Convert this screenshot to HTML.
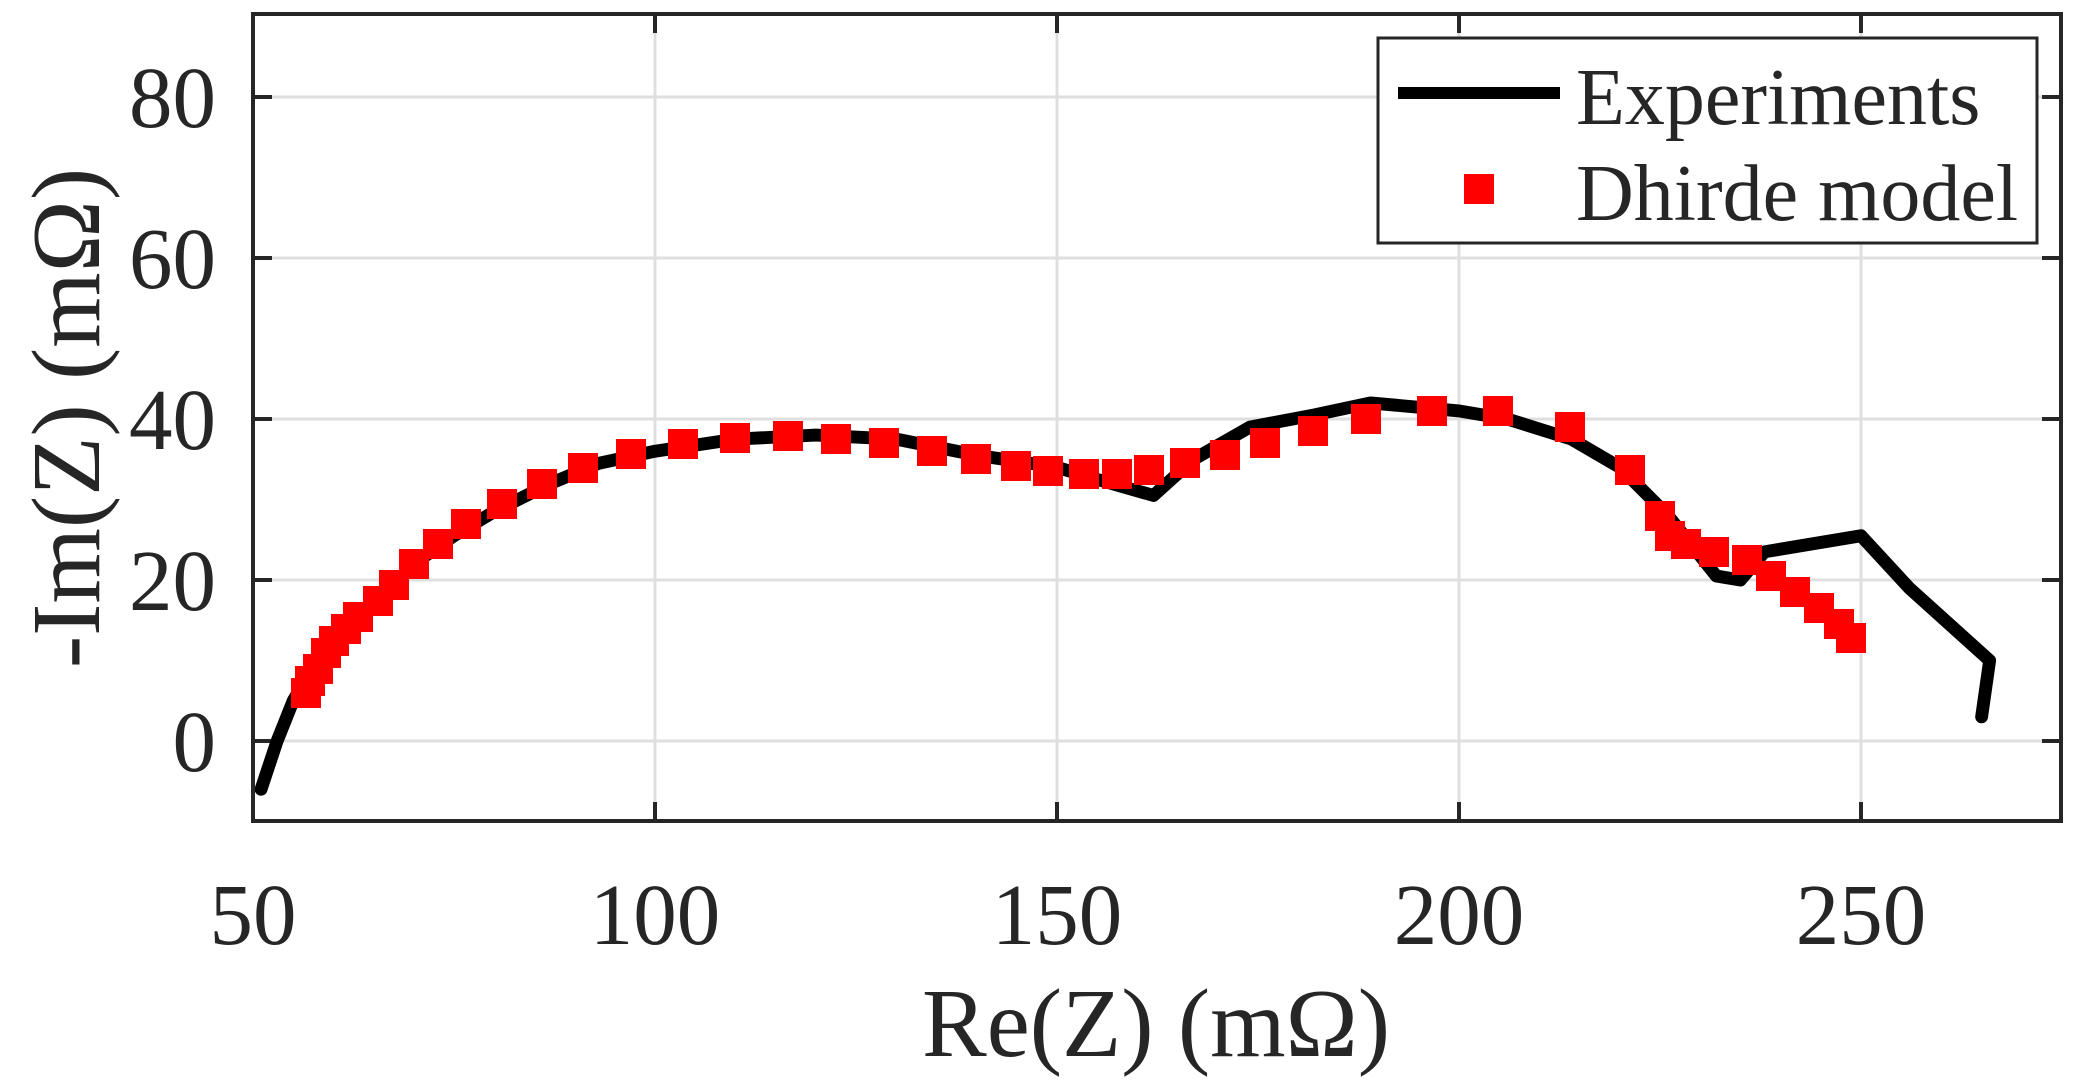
<!DOCTYPE html>
<html><head><meta charset="utf-8"><style>
body{margin:0;background:#fff;}
svg text{font-family:"Liberation Serif",serif;fill:#262626;}
</style></head><body>
<svg width="2082" height="1087" viewBox="0 0 2082 1087" xmlns="http://www.w3.org/2000/svg">
<rect width="2082" height="1087" fill="#fff"/>
<g stroke="#dfdfdf" stroke-width="3">
<line x1="655" y1="14" x2="655" y2="821"/>
<line x1="1057" y1="14" x2="1057" y2="821"/>
<line x1="1459" y1="14" x2="1459" y2="821"/>
<line x1="1861" y1="14" x2="1861" y2="821"/>
<line x1="253" y1="741" x2="2061" y2="741"/>
<line x1="253" y1="580" x2="2061" y2="580"/>
<line x1="253" y1="419" x2="2061" y2="419"/>
<line x1="253" y1="258" x2="2061" y2="258"/>
<line x1="253" y1="97" x2="2061" y2="97"/>
</g>
<g stroke="#262626" stroke-width="4">
<line x1="655" y1="821" x2="655" y2="802"/><line x1="1057" y1="821" x2="1057" y2="802"/><line x1="1459" y1="821" x2="1459" y2="802"/><line x1="1861" y1="821" x2="1861" y2="802"/>
<line x1="655" y1="14" x2="655" y2="33"/><line x1="1057" y1="14" x2="1057" y2="33"/><line x1="1459" y1="14" x2="1459" y2="33"/><line x1="1861" y1="14" x2="1861" y2="33"/>
<line x1="253" y1="741" x2="272" y2="741"/><line x1="253" y1="580" x2="272" y2="580"/><line x1="253" y1="419" x2="272" y2="419"/><line x1="253" y1="258" x2="272" y2="258"/><line x1="253" y1="97" x2="272" y2="97"/>
<line x1="2061" y1="741" x2="2042" y2="741"/><line x1="2061" y1="580" x2="2042" y2="580"/><line x1="2061" y1="419" x2="2042" y2="419"/><line x1="2061" y1="258" x2="2042" y2="258"/><line x1="2061" y1="97" x2="2042" y2="97"/>
</g>
<g transform="translate(253,741) scale(8.04,-8.05) translate(-50,0)">
<polyline fill="none" stroke="#000" stroke-width="1.6" stroke-linejoin="round" stroke-linecap="round" points="51,-6 53,0 55,5 58,10 62,14 66,18 70,22 75,25.5 80,28.5 87,32 93,34.5 100,36 110,37.5 120,38 130,37.5 140,35.5 150,34 155,32.5 162,30.5 167,35 174,39 182,40.5 189,42 200,41 206,40 214,37.5 220,34 226,28 232,20.5 235,20 238,23.5 250,25.5 256,19 266,10 265,3"/>
</g>
<rect x="253" y="14" width="1808" height="807" fill="none" stroke="#262626" stroke-width="4"/>
<rect x="1378" y="38" width="659" height="205" fill="#fff" stroke="#262626" stroke-width="3"/>
<line x1="1398" y1="93" x2="1560" y2="93" stroke="#000" stroke-width="12"/>
<rect x="1464" y="174" width="30" height="30" fill="#ff0000"/>
<text x="1576" y="124" font-size="80">Experiments</text>
<text x="1576" y="220" font-size="80">Dhirde model</text>
<g font-size="87" text-anchor="middle">
<text x="253" y="944">50</text><text x="655" y="944">100</text><text x="1057" y="944">150</text><text x="1459" y="944">200</text><text x="1861" y="944">250</text>
</g>
<g font-size="87" text-anchor="end">
<text x="216" y="771">0</text><text x="216" y="610">20</text><text x="216" y="449">40</text><text x="216" y="288">60</text><text x="216" y="127">80</text>
</g>
<text x="1156" y="1056" font-size="97" text-anchor="middle">Re(Z) (mΩ)</text>
<text transform="translate(99,418) rotate(-90)" font-size="97" text-anchor="middle">-Im(Z) (mΩ)</text>
<g fill="#ff0000" stroke="#ff0000" stroke-width="4">
<rect x="293" y="680" width="26" height="26"/><rect x="297" y="668" width="26" height="26"/><rect x="305" y="656" width="26" height="26"/><rect x="313" y="640" width="26" height="26"/><rect x="321" y="628" width="26" height="26"/><rect x="333" y="616" width="26" height="26"/><rect x="345" y="604" width="26" height="26"/><rect x="365" y="588" width="26" height="26"/><rect x="381" y="572" width="26" height="26"/><rect x="401" y="551" width="26" height="26"/><rect x="425" y="531" width="26" height="26"/><rect x="453" y="511" width="26" height="26"/><rect x="489" y="491" width="26" height="26"/><rect x="529" y="471" width="26" height="26"/><rect x="570" y="455" width="26" height="26"/><rect x="618" y="441" width="26" height="26"/><rect x="670" y="431" width="26" height="26"/><rect x="722" y="425" width="26" height="26"/><rect x="775" y="423" width="26" height="26"/><rect x="823" y="426" width="26" height="26"/><rect x="871" y="430" width="26" height="26"/><rect x="919" y="438" width="26" height="26"/><rect x="963" y="446" width="26" height="26"/><rect x="1003" y="453" width="26" height="26"/><rect x="1035" y="458" width="26" height="26"/><rect x="1071" y="461" width="26" height="26"/><rect x="1104" y="461" width="26" height="26"/><rect x="1136" y="457" width="26" height="26"/><rect x="1172" y="450" width="26" height="26"/><rect x="1212" y="442" width="26" height="26"/><rect x="1252" y="430" width="26" height="26"/><rect x="1300" y="418" width="26" height="26"/><rect x="1353" y="406" width="26" height="26"/><rect x="1419" y="398" width="26" height="26"/><rect x="1485" y="398" width="26" height="26"/><rect x="1557" y="414" width="26" height="26"/><rect x="1617" y="457" width="26" height="26"/><rect x="1647" y="503" width="26" height="26"/><rect x="1657" y="523" width="26" height="26"/><rect x="1673" y="531" width="26" height="26"/><rect x="1701" y="539" width="26" height="26"/><rect x="1734" y="547" width="26" height="26"/><rect x="1758" y="563" width="26" height="26"/><rect x="1782" y="579" width="26" height="26"/><rect x="1806" y="595" width="26" height="26"/><rect x="1826" y="611" width="26" height="26"/><rect x="1838" y="625" width="26" height="26"/>
</g>
</svg>
</body></html>
